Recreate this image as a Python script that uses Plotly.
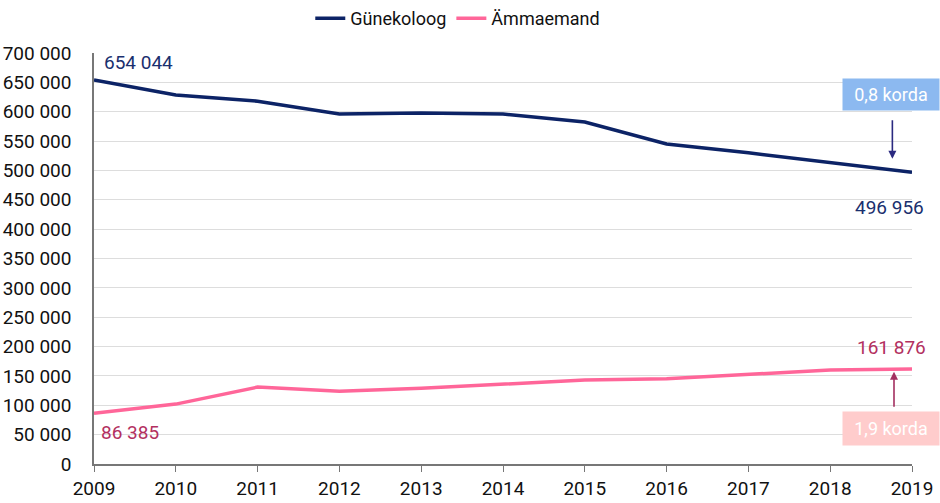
import plotly.graph_objects as go

years = [2009, 2010, 2011, 2012, 2013, 2014, 2015, 2016, 2017, 2018, 2019]
gynecologist = [654044, 628500, 618000, 596000, 598000, 596000, 582500, 545000, 530000, 513000, 496956]
midwife = [86385, 102000, 131000, 124000, 129000, 136000, 143000, 145000, 153000, 160000, 161876]
series_names = ["Günekoloog", "Ämmaemand"]
y_ticks = list(range(0, 700001, 50000))
y_tick_labels = ["0" if v == 0 else f"{v // 1000} 000" for v in y_ticks]

NAVY = "#0c2366"
PINK = "#ff6699"
FONT = "Roboto"

fig = go.Figure()
fig.add_trace(go.Scatter(x=years, y=gynecologist, mode="lines", name=series_names[0],
                         line=dict(color=NAVY, width=3.5)))
fig.add_trace(go.Scatter(x=years, y=midwife, mode="lines", name=series_names[1],
                         line=dict(color=PINK, width=3.5)))

ann = []
ann.append(dict(x=years[0], y=gynecologist[0], xref="x", yref="y", text="654 044",
                showarrow=False, xanchor="left", yanchor="bottom", xshift=8, yshift=4,
                font=dict(color="#1a2f6e", size=19, family=FONT)))
ann.append(dict(x=years[-1], y=gynecologist[-1], xref="x", yref="y", text="496 956",
                showarrow=False, xanchor="right", yanchor="top", xshift=14, yshift=-22,
                font=dict(color="#1a2f6e", size=19, family=FONT)))
ann.append(dict(x=years[0], y=midwife[0], xref="x", yref="y", text="86 385",
                showarrow=False, xanchor="left", yanchor="top", xshift=5, yshift=-6,
                font=dict(color="#b3305f", size=19, family=FONT)))
ann.append(dict(x=years[-1], y=midwife[-1], xref="x", yref="y", text="161 876",
                showarrow=False, xanchor="right", yanchor="bottom", xshift=16, yshift=8,
                font=dict(color="#b3305f", size=19, family=FONT)))
# boxes
ann.append(dict(x=1.0, y=630000, xref="paper", yref="y", text="0,8 korda",
                showarrow=False, xanchor="center", yanchor="middle", xshift=-21,
                bgcolor="#8cb9f0", font=dict(color="white", size=18, family=FONT),
                width=94, height=29, borderpad=1))
ann.append(dict(x=1.0, y=60000, xref="paper", yref="y", text="1,9 korda",
                showarrow=False, xanchor="center", yanchor="middle", xshift=-21,
                bgcolor="#ffcccc", font=dict(color="white", size=18, family=FONT),
                width=94, height=31, borderpad=1))
# arrows
ann.append(dict(x=2018.76, y=513000, ax=2018.76, ay=588000, xref="x", yref="y",
                axref="x", ayref="y", text="", showarrow=True, arrowhead=2,
                arrowsize=1, arrowwidth=1.6, arrowcolor="#2b2a80", standoff=4))
ann.append(dict(x=2018.78, y=164000, ax=2018.78, ay=95000, xref="x", yref="y",
                axref="x", ayref="y", text="", showarrow=True, arrowhead=2,
                arrowsize=1, arrowwidth=1.6, arrowcolor="#a33060", standoff=4))

fig.update_layout(
    width=940, height=503,
    margin=dict(l=94, r=28, t=53, b=39, autoexpand=False),
    paper_bgcolor="white", plot_bgcolor="white",
    font=dict(family=FONT, size=19, color="#111111"),
    legend=dict(orientation="h", x=0.487, xref="container", xanchor="center", y=1.0,
                yref="container", yanchor="top", font=dict(size=18, color="#111111"),
                itemwidth=30, tracegroupgap=0),
    annotations=ann,
    showlegend=True,
)
fig.update_xaxes(range=[2009, 2019], tickmode="array", tickvals=years,
                 ticktext=[str(y) for y in years], ticks="outside", ticklen=6,
                 tickcolor="#777777", showline=True, linecolor="#777777", linewidth=1.5,
                 showgrid=False, zeroline=False, tickfont=dict(size=19), automargin=False)
fig.update_yaxes(range=[0, 700000], tickmode="array", tickvals=y_ticks,
                 ticktext=y_tick_labels, showline=True, linecolor="#777777", linewidth=1.5,
                 showgrid=True, gridcolor="#dddddd", gridwidth=1, zeroline=False,
                 ticks="", tickfont=dict(size=19), ticklabelstandoff=17, automargin=False)

fig.write_html("out.html", config={"displayModeBar": False},
               post_script="document.body.style.margin='0';document.body.style.overflow='hidden';")
